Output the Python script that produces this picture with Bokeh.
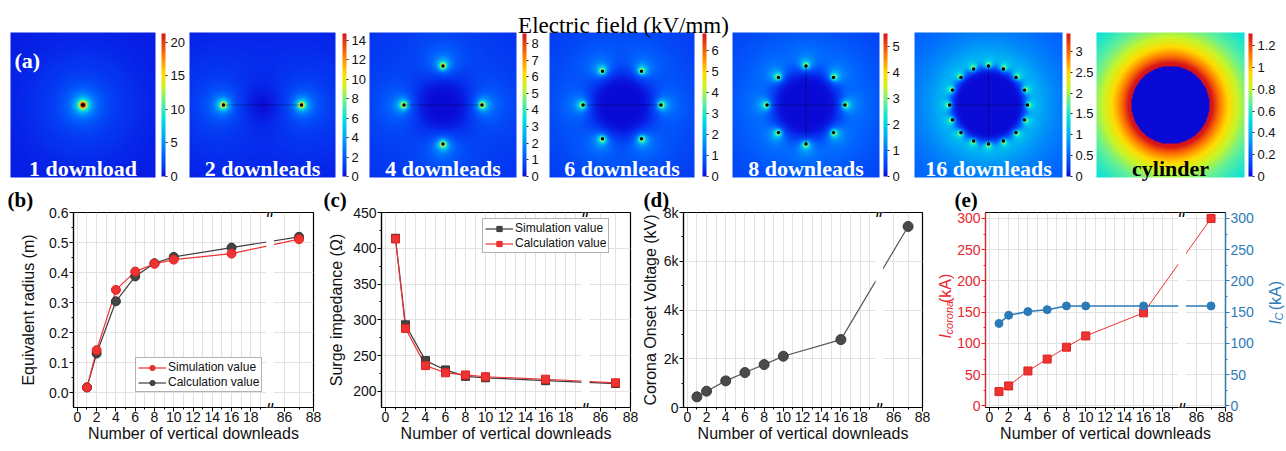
import numpy as np
from math import pi
from bokeh.plotting import figure
from bokeh.layouts import column, row
from bokeh.models import (ColorBar, LinearColorMapper, FixedTicker, Range1d, LinearAxis,
                          Label, Legend, LegendItem, ColumnDataSource, BoxAnnotation,
                          NumeralTickFormatter, CustomJSTickFormatter)
from bokeh.core.properties import value
from bokeh.embed import file_html
from bokeh.resources import INLINE

# ---------------------------------------------------------------- data
field_title = "Electric field (kV/mm)"
panel_names = ["1 download", "2 downleads", "4 downleads", "6 downleads",
               "8 downleads", "16 downleads", "cylinder"]
downlead_counts = [1, 2, 4, 6, 8, 16, 0]
cbar_max = [21.3, 14.7, 8.6, 6.8, 5.5, 3.43, 1.31]
cbar_ticks = [[0, 5, 10, 15, 20],
              [0, 2, 4, 6, 8, 10, 12, 14],
              [0, 1, 2, 3, 4, 5, 6, 7, 8],
              [0, 1, 2, 3, 4, 5, 6],
              [0, 1, 2, 3, 4, 5],
              [0, 0.5, 1, 1.5, 2, 2.5, 3],
              [0, 0.2, 0.4, 0.6, 0.8, 1.0, 1.2]]

x_downleads = [1, 2, 4, 6, 8, 10, 16, 87]
radius_sim = [0.017, 0.141, 0.342, 0.403, 0.429, 0.443, 0.463, 0.511]
radius_calc = [0.017, 0.130, 0.304, 0.387, 0.431, 0.452, 0.483, 0.519]
impedance_sim = [414, 293, 243, 230, 221, 219, 215, 211]
impedance_calc = [413, 288, 236, 226, 223, 220.5, 217, 212]
corona_voltage = [437, 669, 1092, 1433, 1761, 2102, 2785, 7427]
i_corona = [23, 32, 56, 75, 94, 112, 149, 300]
i_c = [132, 145, 151, 154, 160, 160, 160, 160]

x_tick_values = [0, 2, 4, 6, 8, 10, 12, 14, 16, 18, 86, 88]
x_tick_labels = ["0", "2", "4", "6", "8", "10", "12", "14", "16", "18", "86", "88"]
x_minor_values = [1, 3, 5, 7, 9, 11, 13, 15, 17, 19, 87]
x_grid_values = list(range(0, 20)) + [86, 87]

# ---------------------------------------------------------------- helpers
BREAK_LO, BREAK_HI, SCALE2 = 20.0, 85.0, 1.5


def brk(v):
    return v if v <= BREAK_LO else BREAK_LO + (v - BREAK_HI) * SCALE2


def make_palette():
    stops = [(0.00, (10, 10, 215)), (0.05, (5, 50, 240)), (0.15, (0, 100, 255)),
             (0.28, (0, 170, 245)), (0.40, (0, 225, 225)), (0.52, (100, 240, 150)),
             (0.62, (200, 245, 40)), (0.72, (255, 220, 0)), (0.85, (255, 120, 0)),
             (1.00, (215, 20, 25))]
    pal = []
    for i in range(256):
        t = i / 255.0
        for (t0, c0), (t1, c1) in zip(stops[:-1], stops[1:]):
            if t0 <= t <= t1:
                f = (t - t0) / (t1 - t0)
                c = [int(round(a + (b - a) * f)) for a, b in zip(c0, c1)]
                pal.append("#%02x%02x%02x" % tuple(c))
                break
    return pal


PAL = make_palette()
RING_R = 39.0
WIRE_R = 2.0
K_LEAD = 50.0
K_CYL = 55.0


def lead_positions(n):
    if n == 1:
        return [(0.0, 0.0)]
    return [(RING_R * np.cos(2 * pi * k / n), RING_R * np.sin(2 * pi * k / n)) for k in range(n)]


def field_map(n, w, h, emax):
    xs = np.arange(w) - (w - 1) / 2.0
    ys = np.arange(h) - (h - 1) / 2.0
    X, Y = np.meshgrid(xs, ys)
    if n == 0:
        r = np.hypot(X, Y)
        E = np.where(r >= RING_R, K_CYL / np.maximum(r, 1.0), 0.0)
    else:
        Ex = np.zeros_like(X)
        Ey = np.zeros_like(X)
        for cx, cy in lead_positions(n):
            dx, dy = X - cx, Y - cy
            r2 = np.maximum(dx * dx + dy * dy, WIRE_R ** 2)
            Ex += (K_LEAD / n) * dx / r2
            Ey += (K_LEAD / n) * dy / r2
        E = np.hypot(Ex, Ey)
    return np.minimum(E, emax)


SANS = "Liberation Sans"
SERIF = "Liberation Serif"
PAGE_W = 1286

# ---------------------------------------------------------------- top row (a)
TOP_H = 184  # page y 0..184 ; data y = TOP_H - page_y
top = figure(width=PAGE_W, height=TOP_H, x_range=Range1d(0, PAGE_W), y_range=Range1d(0, TOP_H),
             output_backend="svg", toolbar_location=None, min_border=0,
             x_axis_location=None, y_axis_location=None)
top.grid.visible = False
top.outline_line_color = None
top.background_fill_color = "white"

panel_left = [10, 189, 369, 549, 732, 914, 1096]
panel_width = [145, 146, 147, 145, 147, 148, 148]
panel_bottom, panel_height = 7, 145
cbar_x = [161, 342, 522, 702, 883, 1066, 1248]

name_x, name_col = [], []
for i, n in enumerate(downlead_counts):
    w = panel_width[i]
    E = field_map(n, w, panel_height, cbar_max[i])
    mapper = LinearColorMapper(palette=PAL, low=0, high=cbar_max[i])
    top.image(image=[E], x=panel_left[i], y=panel_bottom, dw=w, dh=panel_height,
              color_mapper=mapper)
    cx0 = panel_left[i] + w / 2.0
    cy0 = panel_bottom + panel_height / 2.0
    if n >= 2:
        top.segment(x0=[cx0 - RING_R], y0=[cy0], x1=[cx0 + RING_R], y1=[cy0],
                    line_color="black", line_alpha=0.45, line_width=0.7)
    if n >= 8:
        top.segment(x0=[cx0], y0=[cy0 - RING_R], x1=[cx0], y1=[cy0 + RING_R],
                    line_color="black", line_alpha=0.45, line_width=0.7)
    if n >= 1:
        pos = lead_positions(n)
        top.scatter(x=[cx0 + p[0] for p in pos], y=[cy0 + p[1] for p in pos],
                    size=4.2 if n == 1 else 3.4, color="black", line_color=None)
    cb = ColorBar(color_mapper=mapper, ticker=FixedTicker(ticks=cbar_ticks[i]),
                  formatter=NumeralTickFormatter(format="0.[0]"),
                  location=(cbar_x[i], panel_bottom + 1), orientation="vertical",
                  width=4, height=panel_height - 2, padding=0, margin=0,
                  label_standoff=3, major_tick_in=0, major_tick_out=2,
                  major_tick_line_color="#222222", bar_line_color=None,
                  background_fill_alpha=0, border_line_color=None,
                  major_label_text_font=SANS, major_label_text_font_size="13px",
                  major_label_text_color="#111111")
    top.add_layout(cb)
    name_x.append(cx0)
    name_col.append("black" if n == 0 else "white")

top.text(x=name_x, y=[TOP_H - 168] * len(name_x), text=panel_names, text_color=name_col,
         text_align="center", text_baseline="alphabetic",
         text_font=value(SERIF), text_font_style="bold", text_font_size="22px")
top.add_layout(Label(x=623, y=TOP_H - 25, text=field_title, text_align="center",
                     text_baseline="alphabetic", text_font=SERIF, text_font_size="23px",
                     text_color="black"))
top.add_layout(Label(x=14, y=TOP_H - 60, text="(a)", text_align="left", text_baseline="alphabetic",
                     text_font=SERIF, text_font_size="22px", text_font_style="bold",
                     text_color="white"))

# ---------------------------------------------------------------- bottom row
TOP_MB, FRAME_H, BOT_MB = 28, 195, 40
BOT_H = TOP_MB + FRAME_H + BOT_MB
BOT_PAGE_END = TOP_H + BOT_H
XR = (-0.4, 24.5)

tick_pos = [brk(v) for v in x_tick_values]
minor_pos = [brk(v) for v in x_minor_values]
grid_pos = [brk(v) for v in x_grid_values]
xs_disp = [brk(v) for v in x_downleads]

RED = "#ee3333"
DARK = "#3d3d3d"
BLUE = "#2b7bb9"
LABEL_RED = "#e8252b"


def make_panel(width, left, right, yr, yticks, yminor, yfmt, ylabel, tag, tag_offset, ystandoff):
    p = figure(width=width, height=BOT_H, x_range=Range1d(*XR), y_range=Range1d(*yr),
               output_backend="svg", toolbar_location=None,
               min_border_left=left, min_border_right=right,
               min_border_top=TOP_MB, min_border_bottom=BOT_MB)
    p.background_fill_color = "white"
    p.title.text = tag
    p.title.align = "left"
    p.title.offset = tag_offset
    p.title.standoff = 2
    p.title.text_font = SERIF
    p.title.text_font_size = "21px"
    p.title.text_font_style = "bold"
    p.title.text_color = "black"
    p.xaxis.ticker = FixedTicker(ticks=tick_pos, minor_ticks=minor_pos)
    p.xaxis.formatter = CustomJSTickFormatter(
        args=dict(pos=tick_pos, lab=x_tick_labels),
        code="const i = pos.indexOf(tick); return i >= 0 ? lab[i] : String(tick);")
    p.yaxis.ticker = FixedTicker(ticks=yticks, minor_ticks=yminor)
    p.yaxis.formatter = NumeralTickFormatter(format=yfmt)
    for ax in p.xaxis + p.yaxis:
        ax.major_label_text_font = SANS
        ax.major_label_text_font_size = "14px"
        ax.major_label_text_color = "#111111"
        ax.axis_label_text_font = SANS
        ax.axis_label_text_font_size = "16px"
        ax.axis_label_text_font_style = "normal"
        ax.axis_label_text_color = "#111111"
        ax.major_tick_in = 0
        ax.major_tick_out = 4
        ax.minor_tick_in = 0
        ax.minor_tick_out = 2
        ax.axis_line_width = 1.2
        ax.major_label_standoff = 1
        ax.axis_label_standoff = 2
    for ax in p.xaxis:
        ax.major_label_standoff = 0
        ax.axis_label_standoff = 0
    for ax in p.yaxis:
        ax.axis_label_standoff = ystandoff
    p.xaxis.axis_label = "Number of vertical downleads"
    p.yaxis.axis_label = ylabel
    p.xgrid.ticker = FixedTicker(ticks=grid_pos)
    p.ygrid.ticker = FixedTicker(ticks=yticks)
    p.grid.grid_line_color = "#e2e2e2"
    p.grid.grid_line_width = 1
    p.outline_line_color = "black"
    p.outline_line_width = 1.2
    return p


def add_break(p, yr):
    p.add_layout(BoxAnnotation(left=19.6, right=20.4, fill_color="white", fill_alpha=1.0,
                               line_color=None))
    for yy in yr:
        p.add_layout(Label(x=20, y=yy, text="//", text_align="center", text_baseline="middle",
                           text_font=SANS, text_font_size="12px", text_font_style="bold",
                           text_color="black"))


# (b) equivalent radius
yr_b = (-0.05, 0.6)
pb = make_panel(322, 73, 9, yr_b, [0, 0.1, 0.2, 0.3, 0.4, 0.5, 0.6],
                [0.05, 0.15, 0.25, 0.35, 0.45, 0.55], "0.0", "Equivalent radius (m)",
                "(b)", 7 - 73, 9)
src_b = ColumnDataSource(dict(x=xs_disp, sim=radius_sim, calc=radius_calc))
lb_c = pb.line("x", "calc", source=src_b, line_color=DARK, line_width=1.2)
lb_s = pb.line("x", "sim", source=src_b, line_color=RED, line_width=1.2)
add_break(pb, yr_b)
sb_c = pb.scatter("x", "calc", source=src_b, size=9, marker="circle", fill_color="#444444",
                  line_color="#333333")
sb_s = pb.scatter("x", "sim", source=src_b, size=9, marker="circle", fill_color=RED,
                  line_color="#e02020")
leg_b = Legend(items=[LegendItem(label="Simulation value", renderers=[lb_s, sb_s]),
                      LegendItem(label="Calculation value", renderers=[lb_c, sb_c])],
               location=(62, 15))
pb.add_layout(leg_b)

# (c) surge impedance
yr_c = (177.5, 450)
pc = make_panel(316, 59, 8, yr_c, [200, 250, 300, 350, 400, 450],
                [225, 275, 325, 375, 425], "0", "Surge impedance (Ω)",
                "(c)", 323 - 381, 5)
src_c = ColumnDataSource(dict(x=xs_disp, sim=impedance_sim, calc=impedance_calc))
lc_s = pc.line("x", "sim", source=src_c, line_color=DARK, line_width=1.2)
lc_c = pc.line("x", "calc", source=src_c, line_color=RED, line_width=1.2)
add_break(pc, yr_c)
sc_s = pc.scatter("x", "sim", source=src_c, size=8, marker="square", fill_color="#444444",
                  line_color="#333333")
sc_c = pc.scatter("x", "calc", source=src_c, size=8, marker="square", fill_color=RED,
                  line_color="#e02020")
leg_c = Legend(items=[LegendItem(label="Simulation value", renderers=[lc_s, sc_s]),
                      LegendItem(label="Calculation value", renderers=[lc_c, sc_c])],
               location=(101, 154))
pc.add_layout(leg_c)

for leg in (leg_b, leg_c):
    leg.label_text_font = SANS
    leg.label_text_font_size = "12px"
    leg.label_text_color = "#111111"
    leg.glyph_width = 28
    leg.glyph_height = 13
    leg.label_height = 13
    leg.spacing = 1
    leg.padding = 2
    leg.margin = 0
    leg.label_standoff = 2
    leg.border_line_color = "#666666"
    leg.border_line_width = 1
    leg.background_fill_alpha = 1.0

# (d) corona onset voltage
yr_d = (0, 8000)
pd_ = make_panel(294, 41, 10, yr_d, [0, 2000, 4000, 6000, 8000],
                 [1000, 3000, 5000, 7000], "0a", "Corona Onset Voltage (kV)",
                 "(d)", 639 - 679, 2)
src_d = ColumnDataSource(dict(x=xs_disp, v=corona_voltage))
pd_.line("x", "v", source=src_d, line_color="#555555", line_width=1.2)
add_break(pd_, yr_d)
pd_.scatter("x", "v", source=src_d, size=10, marker="circle", fill_color="#4a4a4a",
            line_color="#3a3a3a")

# (e) currents
E_LEFT_W = 22
yr_e = (-2.5, 309.5)
pe = make_panel(312 - (E_LEFT_W - 18), 35 - (E_LEFT_W - 18), 37, yr_e,
                [0, 50, 100, 150, 200, 250, 300],
                [25, 75, 125, 175, 225, 275], "0", None, "(e)", 954 - 985, 2)
pe.yaxis.axis_label = None
for ax in pe.yaxis:
    ax.axis_line_color = LABEL_RED
    ax.major_tick_line_color = LABEL_RED
    ax.minor_tick_line_color = LABEL_RED
    ax.major_label_text_color = LABEL_RED
pe.extra_y_ranges = {"ic": Range1d(*yr_e)}
ax_r = LinearAxis(y_range_name="ic", ticker=FixedTicker(ticks=[0, 50, 100, 150, 200, 250, 300],
                                                       minor_ticks=[25, 75, 125, 175, 225, 275]),
                  formatter=NumeralTickFormatter(format="0"))
ax_r.axis_line_color = BLUE
ax_r.axis_line_width = 1.2
ax_r.major_tick_line_color = BLUE
ax_r.minor_tick_line_color = BLUE
ax_r.major_label_text_color = BLUE
ax_r.major_label_text_font = SANS
ax_r.major_label_text_font_size = "14px"
ax_r.major_tick_in = 0
ax_r.major_tick_out = 4
ax_r.minor_tick_in = 0
ax_r.minor_tick_out = 2
ax_r.major_label_standoff = 1
pe.add_layout(ax_r, "right")

src_e = ColumnDataSource(dict(x=xs_disp, ico=i_corona, ic=i_c))
pe.line("x", "ico", source=src_e, line_color=RED, line_width=1.0)
pe.line("x", "ic", source=src_e, line_color=BLUE, line_width=1.5, y_range_name="ic")
add_break(pe, yr_e)
pe.scatter("x", "ico", source=src_e, size=8, marker="square", fill_color=RED,
           line_color="#e02020")
pe.scatter("x", "ic", source=src_e, size=8, marker="circle", fill_color=BLUE,
           line_color=BLUE, y_range_name="ic")


# custom axis titles with subscripts for (e), drawn in thin side figures
def label_strip(width, baseline_x, parts, color):
    f = figure(width=width, height=BOT_H, x_range=Range1d(0, width), y_range=Range1d(0, BOT_H),
               output_backend="svg", toolbar_location=None, min_border=0,
               x_axis_location=None, y_axis_location=None)
    f.grid.visible = False
    f.outline_line_color = None
    for txt, page_y, fs, off, style in parts:
        f.add_layout(Label(x=baseline_x, y=BOT_PAGE_END - page_y, x_offset=off, text=txt,
                           angle=pi / 2, text_align="left", text_baseline="alphabetic",
                           text_font=SANS, text_font_size=fs, text_font_style=style,
                           text_color=color))
    return f


e_left = label_strip(E_LEFT_W, 945 - 932,
                     [("I", 354, "16px", 0, "italic"), ("corona", 348.5, "11px", 3, "italic"),
                      ("(kA)", 306, "16px", 0, "normal")], LABEL_RED)
e_right = label_strip(24, 1275 - 1262,
                      [("I", 335, "16px", 0, "italic"), ("C", 329.5, "11px", 3, "italic"),
                       ("(kA)", 316, "16px", 0, "normal")], BLUE)

bottom = row(pb, pc, pd_, e_left, pe, e_right, spacing=0)
layout = column(top, bottom, spacing=0)

open("out.html", "w").write(file_html(layout, INLINE))
